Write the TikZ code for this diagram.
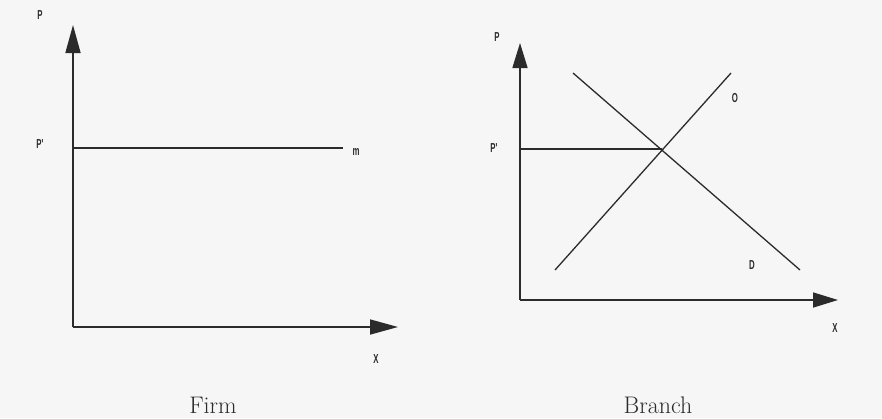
\documentclass[tikz,border=0pt]{standalone}
\usepackage{fontspec}
\setmainfont{Latin Modern Roman}
\newfontfamily\lblfont{Liberation Sans}
\usetikzlibrary{arrows.meta}
\definecolor{ink}{HTML}{2B2B2B}
\definecolor{paper}{HTML}{F6F6F6}
\tikzset{
  axis/.style={draw=ink, line width=1.6pt, -{Triangle[length=28pt,width=15pt]}},
  axisb/.style={draw=ink, line width=1.6pt, -{Triangle[length=25pt,width=15pt]}},
  curve/.style={draw=ink, line width=1.3pt},
  lbl/.style={text=ink, font=\lblfont\bfseries\fontsize{13}{13}\selectfont, xscale=0.6, inner sep=0pt},
  captext/.style={text=ink, font=\fontsize{24}{24}\selectfont, inner sep=0pt}
}
\begin{document}
\begin{tikzpicture}[x=1pt,y=-1pt]
\fill[paper] (0,0) rectangle (882,418);
\useasboundingbox (0,0) rectangle (882,418);
% ---- Firm ----
\coordinate (o1) at (73,327);
\coordinate (yt1) at (73,25);
\coordinate (xe1) at (398,327);
\coordinate (p1a) at (73,148);
\coordinate (p1b) at (343,148);
\draw[axis] (o1) -- (yt1);
\draw[axis] (o1) -- (xe1);
\draw[curve] (p1a) -- (p1b);
\node[lbl] (P1) at (40,15) {P};
\node[lbl] (Ps1) at (40,144) {P'};
\node[lbl] (m1) at (356,152) {m};
\node[lbl] (X1) at (376,359) {X};
\node[captext] (firm) at (213,405) {Firm};
% ---- Branch ----
\coordinate (o2) at (520,300);
\coordinate (yt2) at (520,43);
\coordinate (xe2) at (838,300);
\coordinate (eq) at (662,149);
\coordinate (p2a) at (520,149);
\coordinate (sa) at (555,270);
\coordinate (sb) at (731,73);
\coordinate (da) at (573,73);
\coordinate (db) at (800,270);
\draw[axisb] (o2) -- (yt2);
\draw[axisb] (o2) -- (xe2);
\draw[curve] (p2a) -- (eq);
\draw[curve] (sa) -- (sb);
\draw[curve] (da) -- (db);
\node[lbl] (P2) at (497,37) {P};
\node[lbl] (Ps2) at (494,148) {P'};
\node[lbl] (O2) at (735,98) {O};
\node[lbl] (D2) at (752,265) {D};
\node[lbl] (X2) at (835,328) {X};
\node[captext] (branch) at (658,405) {Branch};
\end{tikzpicture}
\end{document}
